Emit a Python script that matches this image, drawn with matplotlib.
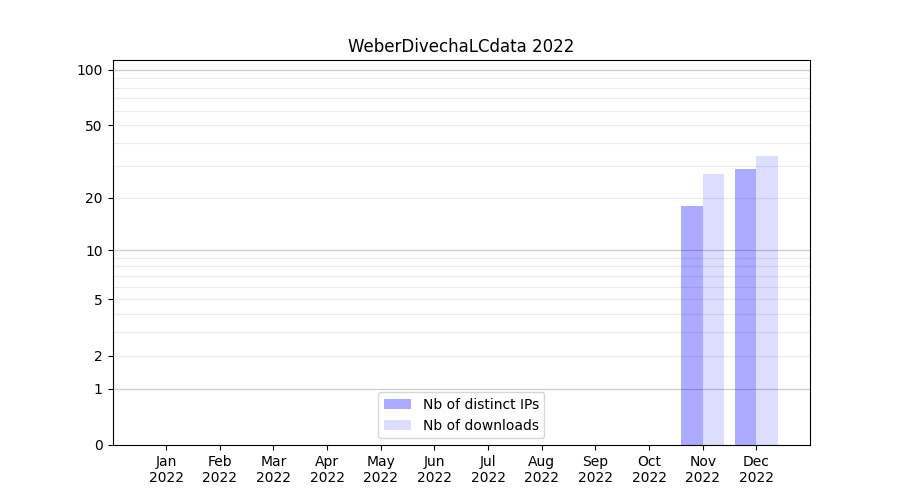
import numpy as np
import matplotlib
matplotlib.use("Agg")
import matplotlib.pyplot as plt

months = ["Jan", "Feb", "Mar", "Apr", "May", "Jun", "Jul", "Aug", "Sep", "Oct", "Nov", "Dec"]
year = "2022"
distinct_ips = [0, 0, 0, 0, 0, 0, 0, 0, 0, 0, 18, 29]
downloads = [0, 0, 0, 0, 0, 0, 0, 0, 0, 0, 27, 34]
y_ticks = [0, 1, 2, 5, 10, 20, 50, 100]


def fwd(v):
    return np.log10(1 + np.clip(v, 0, None))


def inv(v):
    return 10 ** v - 1


fig, ax = plt.subplots(figsize=(9, 5), dpi=100)
x = np.arange(len(months))
w = 0.4
# grid first, translucent bars on top so the lines show through
minor = list(range(2, 10)) + list(range(20, 100, 10))
for v in minor:
    ax.axhline(v, color="#ebebeb", lw=0.8, zorder=0)
for v in (1, 10, 100):
    ax.axhline(v, color="#cccccc", lw=0.9, zorder=0)

ax.bar(x - w / 2, distinct_ips, width=w, color="blue", alpha=0.33, lw=0,
       label="Nb of distinct IPs", zorder=2)
ax.bar(x + w / 2, downloads, width=w, color="blue", alpha=0.135, lw=0,
       label="Nb of downloads", zorder=2)

ax.set_yscale("function", functions=(fwd, inv))
ax.set_ylim(0, 113)
ax.set_xlim(-1, 12)

ax.set_yticks(y_ticks)
ax.set_yticklabels([str(t) for t in y_ticks])
ax.minorticks_off()

ax.set_xticks(x)
ax.set_xticklabels([f"{m}\n{year}" for m in months])
ax.set_title("WeberDivechaLCdata 2022")
ax.legend(loc="lower center")

fig.savefig("out.png")
